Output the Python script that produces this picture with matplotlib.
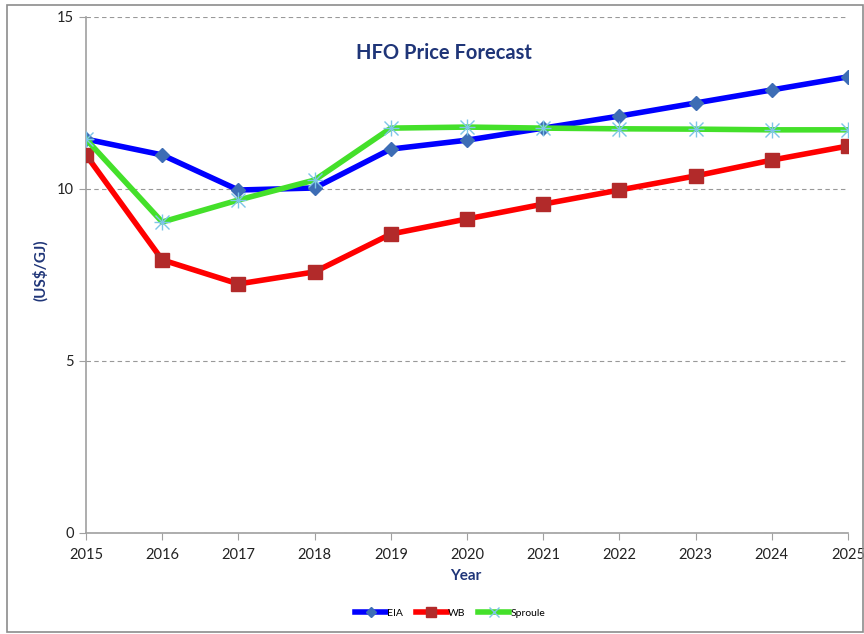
import matplotlib
matplotlib.use("Agg")
import matplotlib.pyplot as plt
from matplotlib.patches import Rectangle

plt.rcParams['font.family'] = ['Lato', 'DejaVu Sans']

years = [2015, 2016, 2017, 2018, 2019, 2020, 2021, 2022, 2023, 2024, 2025]
eia = [11.45, 10.99, 9.97, 10.03, 11.16, 11.42, 11.77, 12.12, 12.50, 12.88, 13.26]
wb = [10.99, 7.94, 7.24, 7.59, 8.69, 9.13, 9.56, 9.97, 10.38, 10.84, 11.25]
sproule = [11.45, 9.04, 9.68, 10.26, 11.77, 11.80, 11.77, 11.75, 11.74, 11.72, 11.72]

navy = "#1F3578"

fig = plt.figure(figsize=(8.64, 6.34), dpi=100)
ax = fig.add_axes([86 / 864, 1 - 533 / 634, (848 - 86) / 864, (533 - 17) / 634])

# outer frame of the chart
fig.patches.append(Rectangle((7 / 864, 2 / 634), 856 / 864, 627 / 634,
                             transform=fig.transFigure, fill=False,
                             edgecolor="#8c8c8c", linewidth=1.2))

ax.plot(years, eia, color="#0000FF", linewidth=4, marker="D", markersize=7,
        markerfacecolor="#3D6DB5", markeredgecolor="#3D6DB5", label="EIA", zorder=3)
ax.plot(years, wb, color="#FF0000", linewidth=4, marker="s", markersize=10,
        markerfacecolor="#B22A2A", markeredgecolor="#B22A2A", label="WB", zorder=3)
ax.plot(years, sproule, color="#44E02A", linewidth=4, marker="x", markersize=10,
        markeredgewidth=1, markeredgecolor="#7EC5E8", label="Sproule", zorder=4)
ax.plot(years, sproule, linestyle="none", marker="+", markersize=11,
        markeredgewidth=1, markeredgecolor="#7EC5E8", zorder=4)

ax.set_xlim(2015, 2025)
ax.set_ylim(0, 15)
ax.set_xticks(years)
ax.set_yticks([0, 5, 10, 15])
ax.tick_params(axis="both", labelsize=10.5, colors="#222222", length=5, color="#a0a0a0")
ax.tick_params(axis="x", pad=6)
ax.yaxis.grid(True, linestyle=(0, (4, 3)), color="#999999", linewidth=0.8)
ax.set_axisbelow(True)
for s in ["top", "right"]:
    ax.spines[s].set_visible(False)
for s in ["left", "bottom"]:
    ax.spines[s].set_color("#a0a0a0")
    ax.spines[s].set_linewidth(1.2)

ax.text(0.47, 0.93, "HFO Price Forecast", transform=ax.transAxes, ha="center",
        va="center", fontsize=14.5, fontweight="bold", color=navy)
fig.text(40 / 864, 1 - 270 / 634, "(US$/GJ)", rotation=90, ha="center", va="center",
         fontsize=11, fontweight="bold", color=navy)
fig.text(466 / 864, 1 - 576 / 634, "Year", ha="center", va="center",
         fontsize=11, fontweight="bold", color=navy)

fig.legend(loc="center", bbox_to_anchor=(450 / 864, 1 - 613 / 634), ncol=3,
           frameon=False, fontsize=7.5, handlelength=3, columnspacing=1.2,
           handletextpad=0.1, markerscale=0.75)

fig.savefig("out.png", dpi=100)
